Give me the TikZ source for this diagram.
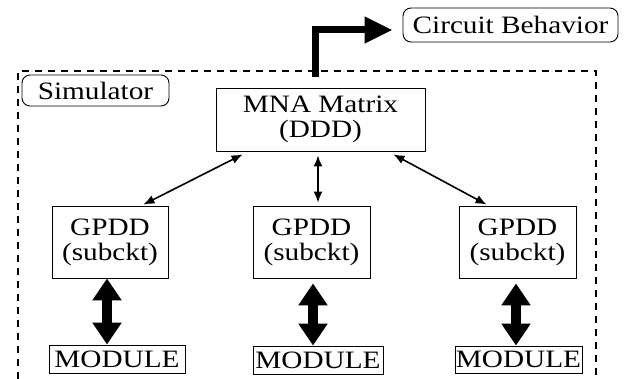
\documentclass[tikz,border=0pt]{standalone}
\usepackage{fontspec}
\setmainfont{Liberation Serif}[FakeStretch=1.17]
\usetikzlibrary{arrows.meta,calc}
\begin{document}
\begin{tikzpicture}[x=1pt,y=-1pt,
  every node/.style={font=\fontsize{25}{25}\selectfont, inner sep=0pt, align=center},
  rbox/.style={draw, line width=0.9pt, rounded corners=8pt},
  sbox/.style={draw, line width=0.9pt},
  thinarrow/.style={line width=1.6pt, {Latex[length=11pt,width=9pt]}-{Latex[length=11pt,width=9pt]}},
  fatarrow/.style={line width=10pt, {Triangle[length=22pt,width=28pt]}-{Triangle[length=22pt,width=28pt]}},
  outarrow/.style={line width=7pt, -{Triangle[length=28pt,width=25pt]}},
  frame/.style={line width=1.1pt, dash pattern=on 7pt off 6pt}
]
\useasboundingbox (0,0) rectangle (631,379);
\fill[white] (0,0) rectangle (631,379);

% dashed simulator region
\coordinate (fbl) at (18,379);
\coordinate (ftl) at (18,71);
\coordinate (ftr) at (596,71);
\coordinate (fbr) at (596,379);
\draw[frame] (fbl) -- (ftl) -- (ftr) -- (fbr);

% nodes
\node[rbox, minimum width=215pt, minimum height=34pt] (CB) at (510.5,25) {Circuit Behavior};
\node[rbox, minimum width=147pt, minimum height=31pt] (Sim) at (95.5,90.5) {Simulator};
\node[sbox, minimum width=209pt, minimum height=63pt] (MNA) at (320.5,119.5) {MNA Matrix\\(DDD)};
\node[sbox, minimum width=116pt, minimum height=72pt] (G1) at (110,242) {GPDD\\(subckt)};
\node[sbox, minimum width=117pt, minimum height=72pt] (G2) at (311.5,242) {GPDD\\(subckt)};
\node[sbox, minimum width=117pt, minimum height=72pt] (G3) at (517.5,242) {GPDD\\(subckt)};
\node[sbox, minimum width=136pt, minimum height=28pt] (M1) at (117,359) {MODULE};
\node[sbox, minimum width=130pt, minimum height=28pt] (M2) at (318,360) {MODULE};
\node[sbox, minimum width=127pt, minimum height=27pt] (M3) at (518.5,359.5) {MODULE};

% output arrow
\draw[outarrow] ($(MNA.north)+(-5.5,-11)$) |- ($(CB.west)+(-10,5)$);

% MNA <-> GPDD
\draw[thinarrow] ($(MNA.south west)+(27,3)$) -- ($(G1.north east)+(-25,-1)$);
\draw[thinarrow] ($(MNA.south)+(-2.5,4)$) -- ($(G2.north)+(6.5,-3)$);
\draw[thinarrow] ($(MNA.south east)+(-32,3)$) -- ($(G3.north west)+(28,-1)$);

% GPDD <-> MODULE
\coordinate (a1) at ($(G1.south)+(-3,0)$);
\coordinate (a2) at ($(G2.south)+(1.5,5)$);
\coordinate (a3) at ($(G3.south)+(-1.5,5)$);
\coordinate (b1) at (a1 |- M1.north);
\coordinate (b2) at (a2 |- M2.north);
\coordinate (b3) at (a3 |- M3.north);
\draw[fatarrow] (a1) -- (b1);
\draw[fatarrow] (a2) -- (b2);
\draw[fatarrow] (a3) -- (b3);
\end{tikzpicture}
\end{document}
